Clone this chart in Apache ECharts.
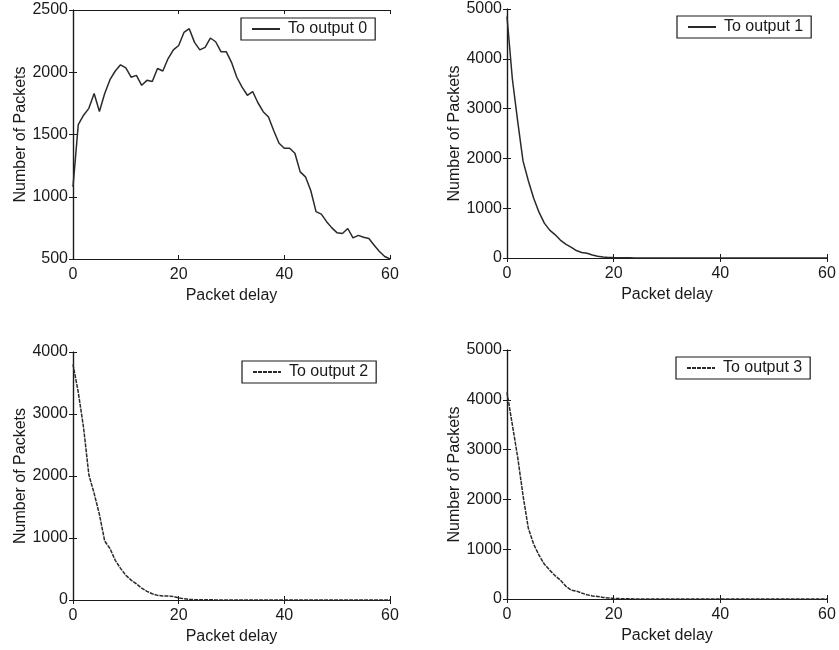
<!DOCTYPE html>
<html>
<head>
<meta charset="utf-8">
<script src="https://cdn.jsdelivr.net/npm/echarts@6/dist/echarts.min.js"></script>
<style>
  html, body { margin: 0; padding: 0; background: #fff; }
  #chart { width: 839px; height: 650px; }
</style>
</head>
<body>
<div id="chart"></div>
<script>
// Packet delay histograms, one panel per output port
const delays = [0,1,2,3,4,5,6,7,8,9,10,11,12,13,14,15,16,17,18,19,20,
  21,22,23,24,25,26,27,28,29,30,31,32,33,34,35,36,37,38,39,40,
  41,42,43,44,45,46,47,48,49,50,51,52,53,54,55,56,57,58,59,60];

const output0 = [1080,1580,1655,1710,1830,1685,1830,1940,2010,2060,2035,
  1960,1975,1895,1935,1925,2030,2010,2110,2180,2215,
  2320,2350,2240,2180,2200,2275,2245,2165,2165,2080,
  1960,1880,1815,1845,1755,1683,1640,1530,1430,1390,
  1390,1350,1200,1160,1050,880,860,800,750,710,
  705,745,670,690,675,665,610,560,520,500];

const output1 = [4850,3600,2750,1950,1550,1200,920,700,560,470,360,
  280,220,150,110,95,60,35,22,12,8,
  6,4,3,2,2,1,1,1,1,0,
  0,0,0,0,0,0,0,0,0,0,
  0,0,0,0,0,0,0,0,0,0,
  0,0,0,0,0,0,0,0,0,0];

const output2 = [3800,3350,2780,2020,1720,1380,950,830,640,510,400,
  320,260,190,140,100,75,65,65,55,35,
  20,12,8,5,4,3,2,1,1,1,
  0,0,0,0,0,0,0,0,0,0,
  0,0,0,0,0,0,0,0,0,0,
  0,0,0,0,0,0,0,0,0,0];

const output3 = [4150,3500,2850,2080,1420,1100,880,700,580,470,380,
  260,180,160,120,85,62,50,32,20,13,
  8,5,3,2,2,1,1,1,0,0,
  0,0,0,0,0,0,0,0,0,0,
  0,0,0,0,0,0,0,0,0,0,
  0,0,0,0,0,0,0,0,0,0];

const seriesNames = ['To output 0', 'To output 1', 'To output 2', 'To output 3'];
const seriesValues = [output0, output1, output2, output3];
const yRanges = [[500, 2500, 500], [0, 5000, 1000], [0, 4000, 1000], [0, 5000, 1000]];
const xTicks = [0, 60, 20];
const xTitle = 'Packet delay';
const yTitle = 'Number of Packets';

// panel layout (pixels)
const grids = [
  { left: 73,  top: 10,  width: 317, height: 249 },
  { left: 507, top: 9,   width: 320, height: 249 },
  { left: 73,  top: 352, width: 317, height: 248 },
  { left: 507, top: 350, width: 320, height: 249 }
];
const legendPos = [
  { left: 241, top: 18 },
  { left: 677, top: 16 },
  { left: 242, top: 361 },
  { left: 676, top: 357 }
];
const dashStyles = ['solid', 'solid', [4, 1], [4, 1]];

const FONT = '"Liberation Sans", Arial, Helvetica, sans-serif';
const INK = '#1a1a1a';
const axisLine = { show: true, lineStyle: { color: INK, width: 1.2 } };
const tick = { show: true, inside: true, length: 4, lineStyle: { color: INK, width: 1 } };
const plain = v => String(v);

const option = {
  backgroundColor: '#fff',
  animation: false,
  grid: grids.map(g => Object.assign({ containLabel: false }, g)),
  xAxis: [],
  yAxis: [],
  legend: [],
  series: []
};

grids.forEach((g, i) => {
  const [ymin, ymax, yint] = yRanges[i];
  // bottom axis with labels and title
  option.xAxis.push({
    type: 'value', gridIndex: i, position: 'bottom',
    min: xTicks[0], max: xTicks[1], interval: xTicks[2],
    axisLine, axisTick: tick, splitLine: { show: false },
    axisLabel: { color: INK, fontFamily: FONT, fontSize: 16, margin: 8, formatter: plain },
    name: xTitle, nameLocation: 'middle', nameGap: 29,
    nameTextStyle: { color: INK, fontFamily: FONT, fontSize: 16 }
  });
  // top edge of the box, ticks only
  option.xAxis.push({
    type: 'value', gridIndex: i, position: 'top',
    min: xTicks[0], max: xTicks[1], interval: xTicks[2],
    axisLine, axisTick: tick, splitLine: { show: false },
    axisLabel: { show: false }
  });
  option.yAxis.push({
    type: 'value', gridIndex: i, position: 'left',
    min: ymin, max: ymax, interval: yint,
    axisLine, axisTick: tick, splitLine: { show: false },
    axisLabel: { color: INK, fontFamily: FONT, fontSize: 16, margin: 5, formatter: plain },
    name: yTitle, nameLocation: 'middle', nameGap: 42,
    nameTextStyle: { color: INK, fontFamily: FONT, fontSize: 16 }
  });
  option.yAxis.push({
    type: 'value', gridIndex: i, position: 'right',
    min: ymin, max: ymax, interval: yint,
    axisLine, axisTick: tick, splitLine: { show: false },
    axisLabel: { show: false }
  });

  option.legend.push({
    data: [seriesNames[i]],
    left: legendPos[i].left, top: legendPos[i].top,
    orient: 'horizontal',
    backgroundColor: '#fff',
    borderColor: INK, borderWidth: 1.2, borderRadius: 0,
    padding: [3, 8, 3, 10],
    itemWidth: 28, itemHeight: 14,
    selectedMode: false,
    itemStyle: { opacity: 0 },
    textStyle: { color: INK, fontFamily: FONT, fontSize: 16, padding: [0, 0, 0, 3] }
  });

  option.series.push({
    name: seriesNames[i],
    type: 'line',
    xAxisIndex: 2 * i,
    yAxisIndex: 2 * i,
    symbol: 'none',
    smooth: false,
    clip: true,
    lineStyle: { color: '#2a2a2a', width: 1.5, type: dashStyles[i] },
    itemStyle: { color: '#2a2a2a' },
    data: delays.map((d, k) => [d, seriesValues[i][k]])
  });
});

const chart = echarts.init(document.getElementById('chart'), null, { renderer: 'canvas' });
chart.setOption(option);
</script>
</body>
</html>
